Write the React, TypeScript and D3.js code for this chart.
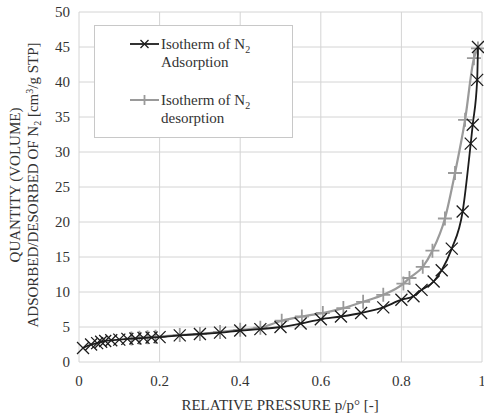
import React from "react";
import * as d3 from "d3";

const adsX = [0.01, 0.03, 0.045, 0.055, 0.065, 0.08, 0.1, 0.12, 0.14, 0.16, 0.18, 0.2, 0.25, 0.3, 0.35, 0.4, 0.45, 0.5, 0.55, 0.6, 0.65, 0.7, 0.755, 0.8, 0.83, 0.85, 0.88, 0.9, 0.925, 0.952, 0.972, 0.977, 0.988, 0.99];
const adsY = [2.0, 2.5, 2.7, 2.9, 3.0, 3.1, 3.2, 3.3, 3.35, 3.45, 3.5, 3.55, 3.8, 4.0, 4.2, 4.5, 4.7, 5.0, 5.5, 6.1, 6.5, 7.0, 7.8, 8.9, 9.4, 10.3, 11.5, 13.1, 16.2, 21.5, 31.2, 33.9, 40.3, 45.0];

const desX = [0.13, 0.15, 0.17, 0.19, 0.25, 0.3, 0.35, 0.4, 0.45, 0.503, 0.553, 0.605, 0.656, 0.705, 0.755, 0.805, 0.82, 0.853, 0.877, 0.908, 0.933, 0.958, 0.98, 0.99];
const desY = [3.35, 3.45, 3.55, 3.6, 3.85, 4.0, 4.3, 4.6, 4.9, 5.9, 6.5, 7.0, 7.7, 8.6, 9.6, 11.2, 12.0, 13.6, 15.9, 20.5, 27.0, 34.6, 43.4, 44.8];

const xTicks = [0, 0.2, 0.4, 0.6, 0.8, 1];
const xTickLabels = ["0", "0.2", "0.4", "0.6", "0.8", "1"];
const yTicks = [0, 5, 10, 15, 20, 25, 30, 35, 40, 45, 50];

const W = 484, H = 413;
const FONT = "Liberation Serif, Times New Roman, DejaVu Serif, serif";
const BLACK = "#1c1c1c";
const GRAY = "#9a9a9a";

export default function App() {
  const x = d3.scaleLinear().domain([0, 1]).range([79, 482]);
  const y = d3.scaleLinear().domain([0, 50]).range([362, 12]);
  const ads = adsX.map((v, i) => [v, adsY[i]] as [number, number]);
  const des = desX.map((v, i) => [v, desY[i]] as [number, number]);
  const line = d3.line<[number, number]>().x(d => x(d[0])).y(d => y(d[1])).curve(d3.curveMonotoneX);

  const cross = (cx: number, cy: number, s: number, key: string, col: string) => (
    <path key={key} d={`M${cx - s},${cy - s}L${cx + s},${cy + s}M${cx - s},${cy + s}L${cx + s},${cy - s}`} stroke={col} strokeWidth={1.3} fill="none" />
  );
  const plus = (cx: number, cy: number, s: number, key: string, col: string) => (
    <path key={key} d={`M${cx - s},${cy}L${cx + s},${cy}M${cx},${cy - s}L${cx},${cy + s}`} stroke={col} strokeWidth={1.8} fill="none" />
  );

  return (
    <svg width={W} height={H} style={{ position: "absolute", left: 0, top: 0, background: "#fff", fontFamily: FONT }}>
      <rect x={0} y={0} width={W} height={H} fill="#fff" />
      {yTicks.map(t => (
        <line key={"gy" + t} x1={x(0)} x2={x(1)} y1={y(t)} y2={y(t)} stroke="#d4d4d4" strokeWidth={1} />
      ))}
      {xTicks.map(t => (
        <line key={"gx" + t} x1={x(t)} x2={x(t)} y1={y(0)} y2={y(50)} stroke="#d4d4d4" strokeWidth={1} />
      ))}
      {yTicks.map(t => (
        <text key={"ty" + t} x={70} y={y(t)} dy="0.35em" textAnchor="end" fontSize={15} fill="#333">{t}</text>
      ))}
      {xTicks.map((t, i) => (
        <text key={"tx" + t} x={x(t)} y={386} textAnchor="middle" fontSize={15} fill="#333">{xTickLabels[i]}</text>
      ))}
      <text x={280} y={410} textAnchor="middle" fontSize={15} fill="#333">RELATIVE PRESSURE p/p° [-]</text>
      <g transform="translate(20,185) rotate(-90)">
        <text x={0} y={0} textAnchor="middle" fontSize={15} fill="#333">QUANTITY (VOLUME)</text>
      </g>
      <g transform="translate(38,185) rotate(-90)">
        <text x={0} y={0} textAnchor="middle" fontSize={15} fill="#333">
          ADSORBED/DESORBED OF N<tspan fontSize={10} dy={3}>2</tspan><tspan dy={-3}> [cm</tspan><tspan fontSize={10} dy={-5}>3</tspan><tspan dy={5}>/g STP]</tspan>
        </text>
      </g>

      <path d={line(des) || ""} stroke={GRAY} strokeWidth={2.2} fill="none" />
      {des.map((d, i) => plus(x(d[0]), y(d[1]), 7, "dp" + i, GRAY))}
      <path d={line(ads) || ""} stroke={BLACK} strokeWidth={1.8} fill="none" />
      {ads.map((d, i) => cross(x(d[0]), y(d[1]), 6, "ap" + i, BLACK))}

      <rect x={94.5} y={25.5} width={198} height={112} fill="#fff" stroke="#c8c8c8" strokeWidth={1} />
      <line x1={130} x2={159} y1={44} y2={44} stroke={BLACK} strokeWidth={1.8} />
      {cross(144.5, 44, 4, "lc", BLACK)}
      <text x={161} y={49} fontSize={15} fill="#333">Isotherm of N<tspan fontSize={10} dy={4}>2</tspan></text>
      <text x={161} y={67} fontSize={15} fill="#333">Adsorption</text>
      <line x1={130} x2={159} y1={100} y2={100} stroke={GRAY} strokeWidth={2} />
      {plus(144.5, 100, 5, "lp", GRAY)}
      <text x={161} y={105} fontSize={15} fill="#333">Isotherm of N<tspan fontSize={10} dy={4}>2</tspan></text>
      <text x={161} y={123} fontSize={15} fill="#333">desorption</text>
    </svg>
  );
}
